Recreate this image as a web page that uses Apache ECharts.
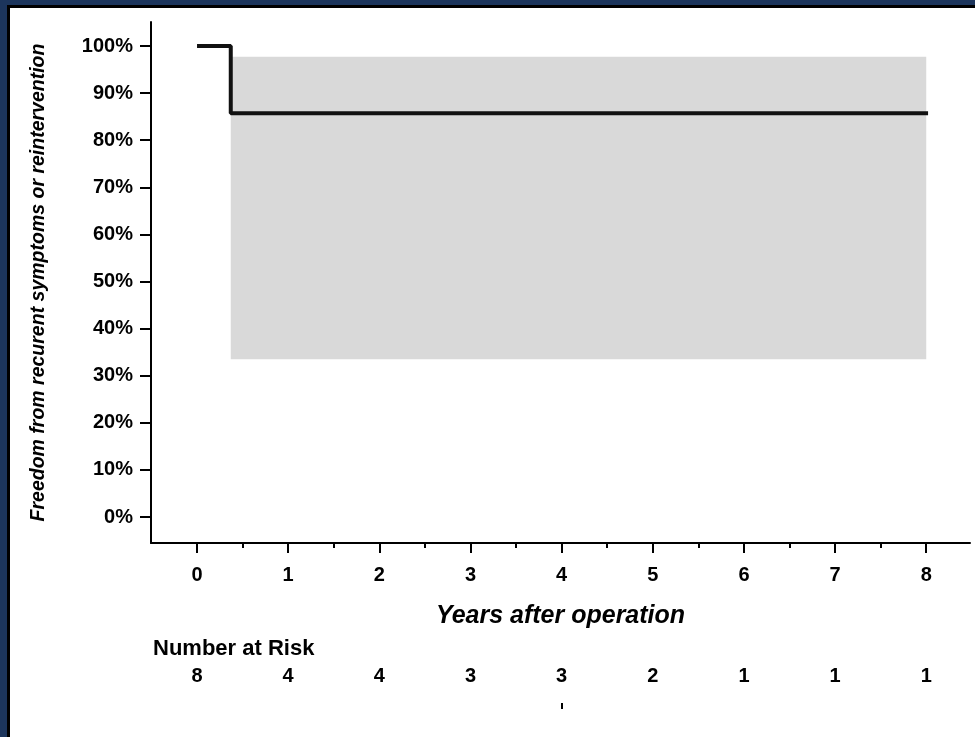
<!DOCTYPE html>
<html>
<head>
<meta charset="utf-8">
<style>
  html, body { margin: 0; padding: 0; background: #fff; }
  #chart { width: 975px; height: 737px; }
</style>
<script src="https://cdn.jsdelivr.net/npm/echarts@6/dist/echarts.min.js"></script>
</head>
<body>
<div id="chart"></div>
<script>
  // survival curve (years, percent)
  var stepYears = [0, 0.37, 0.37, 8.02];
  var stepFreedom = [100, 100, 85.7, 85.7];
  // confidence band
  var bandYears = [0.37, 8.0];
  var bandLow = 33.5;
  var bandHigh = 97.7;
  // axes
  var yearTicks = [0, 1, 2, 3, 4, 5, 6, 7, 8];
  var halfTicks = [0.5, 1.5, 2.5, 3.5, 4.5, 5.5, 6.5, 7.5];
  var pctTicks = [0, 10, 20, 30, 40, 50, 60, 70, 80, 90, 100];
  var atRisk = [8, 4, 4, 3, 3, 2, 1, 1, 1];

  var font = '"Liberation Sans", Arial, sans-serif';
  var chart = echarts.init(document.getElementById('chart'));

  var linePoints = stepYears.map(function (x, i) {
    return [x, stepFreedom[i]];
  });

  var xBase = {
    type: 'value',
    min: -0.505,
    max: 8.48,
    position: 'bottom',
    splitLine: { show: false }
  };

  chart.setOption({
    backgroundColor: '#fff',
    animation: false,
    title: {
      text: 'Number at Risk',
      left: 148,
      top: 633,
      textStyle: { fontFamily: font, fontSize: 22, fontWeight: 'bold', color: '#000' }
    },
    graphic: [
      { type: 'rect', shape: { x: 0, y: 0, width: 975, height: 5 }, style: { fill: '#1c355c' } },
      { type: 'rect', shape: { x: 0, y: 0, width: 7, height: 737 }, style: { fill: '#1c355c' } },
      { type: 'rect', shape: { x: 7, y: 5, width: 968, height: 3 }, style: { fill: '#000' } },
      { type: 'rect', shape: { x: 7, y: 5, width: 3, height: 732 }, style: { fill: '#000' } },
      { type: 'rect', shape: { x: 561, y: 703, width: 2, height: 6 }, style: { fill: '#000' } }
    ],
    grid: { left: 151, top: 22, width: 819, height: 521 },
    xAxis: [
      Object.assign({}, xBase, {
        name: 'Years after operation',
        nameLocation: 'middle',
        nameGap: 61,
        nameMoveOverlap: false,
        nameTextStyle: { fontFamily: font, fontSize: 25, fontWeight: 'bold', fontStyle: 'italic', color: '#000' },
        axisLine: { onZero: false, lineStyle: { color: '#000', width: 2 } },
        axisTick: { customValues: yearTicks, length: 10, lineStyle: { color: '#000', width: 2 } },
        axisLabel: {
          customValues: yearTicks, margin: 22,
          fontFamily: font, fontSize: 20, fontWeight: 'bold', color: '#000'
        }
      }),
      Object.assign({}, xBase, {
        axisLine: { show: false, onZero: false },
        axisTick: { customValues: halfTicks, length: 5, lineStyle: { color: '#000', width: 2 } },
        axisLabel: { show: false }
      }),
      Object.assign({}, xBase, {
        offset: 115,
        axisLine: { show: false, onZero: false },
        axisTick: { show: false },
        axisLabel: {
          customValues: yearTicks, margin: 8,
          fontFamily: font, fontSize: 20, fontWeight: 'bold', color: '#000',
          formatter: function (v) { return String(atRisk[Math.round(v)]); }
        }
      })
    ],
    yAxis: {
      type: 'value',
      min: -5.52,
      max: 105.1,
      splitLine: { show: false },
      name: 'Freedom from recurent symptoms or reintervention',
      nameLocation: 'middle',
      nameRotate: 90,
      nameGap: 102,
      nameMoveOverlap: false,
      nameTextStyle: { fontFamily: font, fontSize: 19.5, fontWeight: 'bold', fontStyle: 'italic', color: '#000' },
      axisLine: { show: true, onZero: false, lineStyle: { color: '#000', width: 2 } },
      axisTick: { show: true, customValues: pctTicks, length: 11, lineStyle: { color: '#000', width: 2 } },
      axisLabel: {
        customValues: pctTicks, margin: 18,
        fontFamily: font, fontSize: 20, fontWeight: 'bold', color: '#000',
        formatter: function (v) { return Math.round(v) + '%'; }
      }
    },
    series: [
      {
        type: 'line',
        data: [],
        z: 1,
        silent: true,
        markArea: {
          silent: true,
          itemStyle: { color: '#d9d9d9', opacity: 1 },
          data: [[
            { coord: [bandYears[0], bandHigh] },
            { coord: [bandYears[1], bandLow] }
          ]]
        }
      },
      {
        type: 'line',
        data: linePoints,
        z: 5,
        symbol: 'none',
        lineStyle: { color: '#111', width: 4 }
      }
    ]
  });
</script>
</body>
</html>
